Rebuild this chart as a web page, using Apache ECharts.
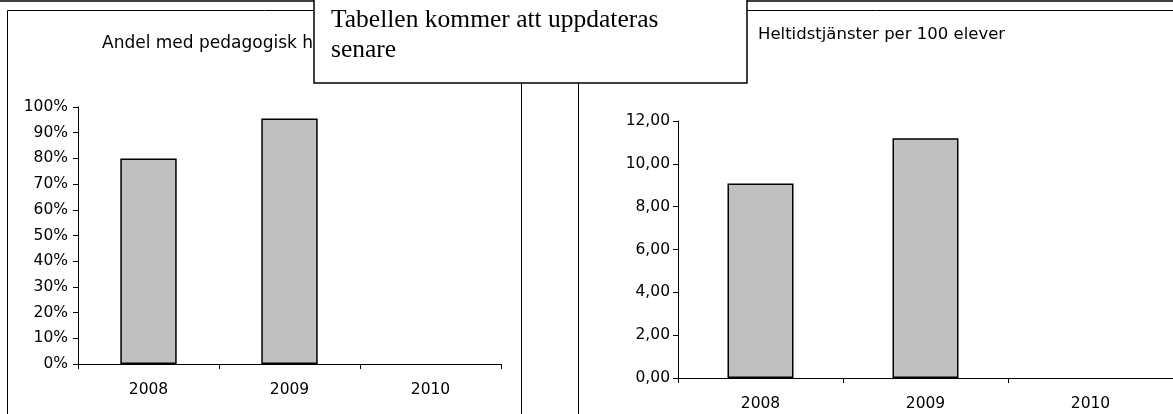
<!DOCTYPE html>
<html>
<head>
<meta charset="utf-8">
<script src="https://cdn.jsdelivr.net/npm/echarts@6/dist/echarts.min.js"></script>
<style>
  html, body { margin: 0; padding: 0; background: #fff; }
  #main { width: 1173px; height: 414px; }
</style>
</head>
<body>
<div id="main"></div>
<script>
// data
var years = ['2008', '2009', '2010']
var andelPedagogisk = [0.80, 0.955, null]   // share, 2010 not yet reported
var heltidPer100 = [9.08, 11.19, null]      // full-time posts per 100 pupils

var leftTitle = 'Andel med pedagogisk högskoleexamen'
var rightTitle = 'Heltidstjänster per 100 elever'
var noteLines = ['Tabellen kommer att uppdateras', 'senare']

var myChart = echarts.init(document.getElementById('main'))

var font = 'DejaVu Sans, Arial, sans-serif'
var serif = 'Liberation Serif, Times New Roman, serif'
var axisLine = { show: true, lineStyle: { color: '#000', width: 1 } }

function barSeries(idx, data) {
  return {
    type: 'bar',
    xAxisIndex: idx,
    yAxisIndex: idx,
    data: data,
    barWidth: '40%',
    itemStyle: { color: '#c0c0c0', borderColor: '#000', borderWidth: 1.5 },
    silent: true
  }
}

function catAxis(idx) {
  return {
    type: 'category',
    gridIndex: idx,
    data: years,
    boundaryGap: true,
    axisLine: axisLine,
    axisTick: { show: true, length: 5, lineStyle: { color: '#000' } },
    axisLabel: { color: '#000', fontFamily: font, fontSize: 15.5, margin: 18 },
    splitLine: { show: false }
  }
}

function valAxis(idx, max, step, margin, fmt) {
  return {
    type: 'value', gridIndex: idx, min: 0, max: max, interval: step,
    axisLine: axisLine,
    axisTick: { show: true, length: 5, lineStyle: { color: '#000' } },
    axisLabel: { color: '#000', fontFamily: font, fontSize: 15.5, margin: margin, formatter: fmt },
    splitLine: { show: false }
  }
}

function textEl(x, y, txt, f, z) {
  return {
    type: 'text', x: x, y: y, z: z,
    style: { text: txt, fill: '#000', font: f, align: 'left', verticalAlign: 'middle',
      textAlign: 'left', textVerticalAlign: 'middle' }
  }
}

var option = {
  animation: false,
  backgroundColor: '#fff',
  grid: [
    { left: 78, right: 672, top: 107, bottom: 50 },
    { left: 678, right: -2, top: 121, bottom: 36 }
  ],
  xAxis: [catAxis(0), catAxis(1)],
  yAxis: [
    valAxis(0, 1, 0.1, 10, function (v) { return Math.round(v * 100) + '%' }),
    valAxis(1, 12, 2, 8, function (v) { return v.toFixed(2).replace('.', ',') })
  ],
  series: [barSeries(0, andelPedagogisk), barSeries(1, heltidPer100)],
  graphic: [
    // page rule along the top
    { type: 'line', shape: { x1: 0, y1: 1, x2: 1173, y2: 1 }, style: { stroke: '#000', lineWidth: 1.5 }, z: 50 },
    // chart frames
    { type: 'rect', shape: { x: 7.5, y: 10.5, width: 514, height: 420 }, style: { fill: null, stroke: '#000', lineWidth: 1 }, z: 50 },
    { type: 'rect', shape: { x: 578.5, y: 10.5, width: 620, height: 420 }, style: { fill: null, stroke: '#000', lineWidth: 1 }, z: 50 },
    // titles (the left one runs under the note box)
    textEl(102, 44, leftTitle, '17px ' + font, 60),
    textEl(758, 35, rightTitle, '16.5px ' + font, 60),
    // note box on top
    { type: 'rect', shape: { x: 314, y: -2, width: 433, height: 85 }, style: { fill: '#fff', stroke: '#000', lineWidth: 1.5 }, z: 100 },
    textEl(331, 20, noteLines[0], '25.5px ' + serif, 101),
    textEl(331, 50, noteLines[1], '25.5px ' + serif, 101)
  ]
}

myChart.setOption(option)
</script>
</body>
</html>
